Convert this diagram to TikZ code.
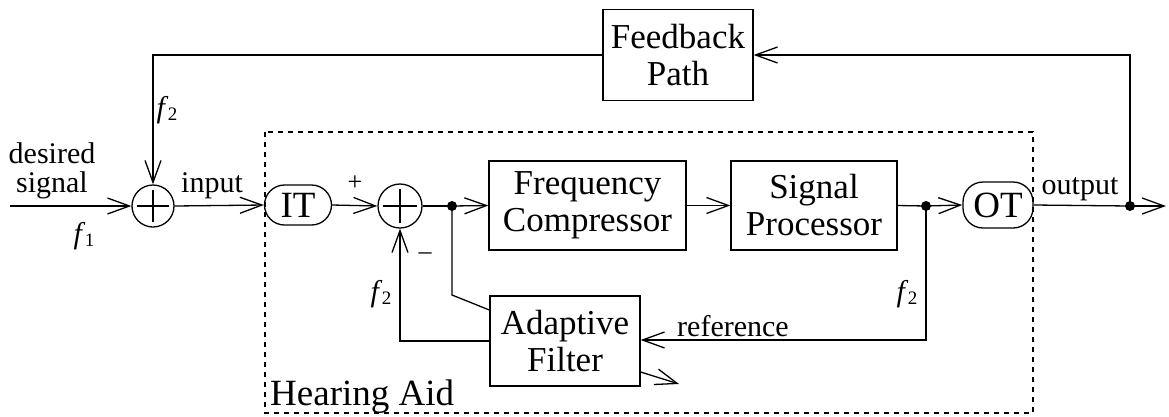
\documentclass[tikz,border=0pt]{standalone}
\usepackage{fontspec}
\setmainfont{Liberation Serif}
\usetikzlibrary{arrows.meta,calc}
\newcommand{\fsubl}[1]{\textit{f}\kern-0.5pt\raisebox{-0.25ex}{\fontsize{19}{19}\selectfont #1}}
\tikzset{
  x=1pt,y=1pt,
  wire/.style={line width=1.3pt},
  arr/.style={wire,-{Straight Barb[length=22pt,width=16pt,line width=1.3pt]}},
  block/.style={draw,line width=1.3pt,rectangle,align=center,inner sep=0pt,
    font=\fontsize{35}{37}\selectfont},
  trans/.style={draw,line width=1.3pt,rectangle,rounded corners=20pt,inner sep=0pt,
    font=\fontsize{37}{37}\selectfont},
  summer/.style={draw,line width=1.3pt,circle,minimum size=#1,inner sep=0pt,
    path picture={\draw[line width=1.3pt]
      ($(path picture bounding box.center)+(-0.78*#1/2,0)$) -- ($(path picture bounding box.center)+(0.78*#1/2,0)$)
      ($(path picture bounding box.center)+(0,-0.78*#1/2)$) -- ($(path picture bounding box.center)+(0,0.78*#1/2)$);}},
  jdot/.style={circle,fill,inner sep=0pt,minimum size=10pt},
  lbl/.style={inner sep=0pt,font=\fontsize{30}{29}\selectfont,align=center},
  sgn/.style={inner sep=0pt,font=\fontsize{26}{26}\selectfont},
  hbox/.style={draw,line width=1.1pt,dash pattern=on 5pt off 5pt}
}
\begin{document}
\begin{tikzpicture}
\useasboundingbox (0,0) rectangle (1169,-416);
% hearing aid box
\draw[hbox] (265,-132) rectangle (1033,-413);
\node[anchor=base west,inner sep=0pt,font=\fontsize{37}{37}\selectfont] (ha) at (270,-405) {Hearing Aid};
% blocks
\node[summer=42pt] (s1) at (153,-206) {};
\node[summer=44pt] (s2) at (400,-206) {};
\node[trans,minimum width=67pt,minimum height=40pt] (it) at (298,-205) {IT};
\node[trans,minimum width=70pt,minimum height=46pt] (ot) at (998,-205) {OT};
\node[block,minimum width=197pt,minimum height=89pt] (fc) at (587.5,-205.5) {Frequency\\Compressor};
\node[block,minimum width=166pt,minimum height=89pt] (sp) at (814,-205.5) {Signal\\Processor};
\node[block,minimum width=150pt,minimum height=91pt] (fb) at (678,-55) {Feedback\\Path};
\node[block,minimum width=150pt,minimum height=90pt] (af) at (565,-341) {Adaptive\\Filter};
% junctions
\node[jdot] (d1) at (452,-206) {};
\node[jdot] (d2) at (926,-206) {};
\node[jdot] (d3) at (1130,-206) {};
\coordinate (in) at (10,-206);
\coordinate (out) at (1166,-206);
\coordinate (afout) at (679,-384);
\coordinate (afdiag) at (452,-295);
% connectors
\draw[arr] (in) -- (s1.west);
\draw[arr] (s1.east) -- (it.west);
\draw[arr] (it.east) -- (s2.west);
\draw[wire] (s2.east) -- (d1.center);
\draw[arr] (d1.center) -- (fc.west);
\draw[arr] (fc.east) -- (sp.west);
\draw[wire] (sp.east) -- (d2.center);
\draw[arr] (d2.center) -- (ot.west);
\draw[wire] (ot.east) -- (d3.center);
\draw[arr] (d3.center) -- (out);
\draw[arr] (d3.center) |- (fb.east);
\draw[arr] (fb.west) -| (s1.north);
\draw[arr] (d2.center) |- ($(af.east)+(0,1)$);
\draw[wire] (d1.center) -- (afdiag) -- ($(af.west)+(0,31)$);
\draw[arr] (af.west) -| (s2.south);
\draw[arr] ($(af.east)+(0,-31)$) -- (afout);
% labels
\node[lbl] (ds) at (52,-171) {desired\\signal};
\node[lbl] (f1) at (84,-236) {\fsubl{1}};
\node[lbl] (f2a) at (167,-110) {\fsubl{2}};
\node[lbl] (inl) at (212,-186) {input};
\node[lbl] (outl) at (1080,-189) {output};
\node[lbl] (refl) at (733,-326) {reference};
\node[lbl] (f2b) at (381,-294) {\fsubl{2}};
\node[lbl] (f2c) at (907,-294) {\fsubl{2}};
\node[sgn] (plus) at (355,-183) {+};
\node[sgn] (minus) at (425,-256) {\textendash};
\end{tikzpicture}
\end{document}
